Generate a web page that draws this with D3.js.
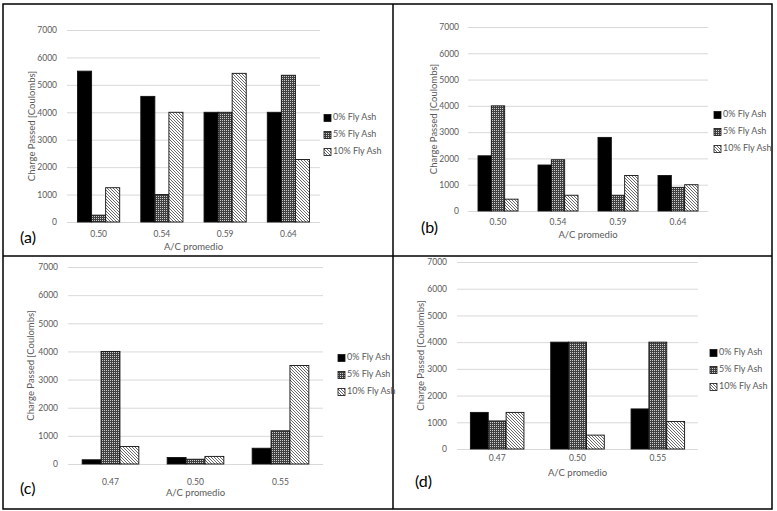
<!DOCTYPE html>
<html>
<head>
<meta charset="utf-8">
<script src="https://cdn.jsdelivr.net/npm/d3@7/dist/d3.min.js"></script>
<style>
  body { margin: 0; background: #fff; }
  svg { display: block; font-family: Lato, "Open Sans", sans-serif; }
</style>
</head>
<body>
<svg id="chart" width="777" height="511"></svg>
<script>
// data
const series = ["0% Fly Ash", "5% Fly Ash", "10% Fly Ash"];
const yTicks = [0, 1000, 2000, 3000, 4000, 5000, 6000, 7000];

const catsA = ["0.50", "0.54", "0.59", "0.64"];
const a0 = [5500, 4580, 4000, 4000];
const a5 = [250, 1000, 4000, 5350];
const a10 = [1250, 4000, 5420, 2280];

const catsB = ["0.50", "0.54", "0.59", "0.64"];
const b0 = [2100, 1750, 2800, 1350];
const b5 = [4000, 1950, 600, 900];
const b10 = [450, 600, 1350, 1000];

const catsC = ["0.47", "0.50", "0.55"];
const c0 = [150, 230, 560];
const c5 = [4000, 170, 1180];
const c10 = [620, 270, 3500];

const catsD = ["0.47", "0.50", "0.55"];
const d0 = [1370, 4000, 1500];
const d5 = [1050, 4000, 4000];
const d10 = [1370, 520, 1030];

const svg = d3.select("#chart");
const defs = svg.append("defs");

// 5% fill: dark grey with a grid of light dots
const dots = defs.append("pattern")
  .attr("id", "pat-dots")
  .attr("patternUnits", "userSpaceOnUse")
  .attr("width", 4)
  .attr("height", 4);
dots.append("rect").attr("width", 4).attr("height", 4).attr("fill", "#404040");
[[0, 0], [2, 0], [0, 2], [2, 2]].forEach(([px, py]) => {
  dots.append("rect")
    .attr("x", px).attr("y", py)
    .attr("width", 1).attr("height", 1)
    .attr("fill", "#cfcfcf");
});

// 10% fill: dense diagonal hatch
const hatch = defs.append("pattern")
  .attr("id", "pat-hatch")
  .attr("patternUnits", "userSpaceOnUse")
  .attr("width", 3)
  .attr("height", 3);
hatch.append("rect").attr("width", 3).attr("height", 3).attr("fill", "#fff");
hatch.append("path")
  .attr("d", "M-1,-1L4,4M2,-1L4,1M-1,2L1,4")
  .attr("stroke", "#444")
  .attr("stroke-width", 0.8);

const fills = ["#000", "url(#pat-dots)", "url(#pat-hatch)"];

// frame
svg.append("rect")
  .attr("x", 3).attr("y", 4)
  .attr("width", 769).attr("height", 505)
  .attr("fill", "none")
  .attr("stroke", "#000")
  .attr("stroke-width", 1.5);
svg.append("line")
  .attr("x1", 393).attr("x2", 393).attr("y1", 4).attr("y2", 509)
  .attr("stroke", "#000").attr("stroke-width", 1.5);
svg.append("line")
  .attr("x1", 3).attr("x2", 772).attr("y1", 256).attr("y2", 256)
  .attr("stroke", "#000").attr("stroke-width", 1.5);

const panels = [
  { tag: "(a)", cats: catsA, vals: [a0, a5, a10],
    x0: 67, x1: 320, top: 30, base: 222, tickPad: 10,
    catY: 235, titleY: 248, yTitleX: 33,
    legX: 324, legY: [118, 135, 152], tagX: 20, tagY: 239 },
  { tag: "(b)", cats: catsB, vals: [b0, b5, b10],
    x0: 468, x1: 708, top: 27, base: 211, tickPad: 9,
    catY: 223, titleY: 236, yTitleX: 435,
    legX: 714, legY: [115, 132, 149], tagX: 421, tagY: 229 },
  { tag: "(c)", cats: catsC, vals: [c0, c5, c10],
    x0: 68, x1: 323, top: 267, base: 464, tickPad: 10,
    catY: 483, titleY: 494, yTitleX: 32,
    legX: 338, legY: [358, 375, 392], tagX: 20, tagY: 490 },
  { tag: "(d)", cats: catsD, vals: [d0, d5, d10],
    x0: 457, x1: 698, top: 262, base: 449, tickPad: 10,
    catY: 459, titleY: 474, yTitleX: 422,
    legX: 710, legY: [353, 370, 387], tagX: 415, tagY: 483 }
];

panels.forEach((p) => {
  const g = svg.append("g");

  const y = d3.scaleLinear().domain([0, 7000]).range([p.base, p.top]);
  const x = d3.scaleBand().domain(p.cats).range([p.x0, p.x1]);
  const groupW = x.bandwidth() / 1.5;
  const xs = d3.scaleBand().domain(series).range([0, groupW]);

  // y axis with grid
  const yAxis = g.append("g")
    .attr("transform", `translate(${p.x0},0)`)
    .call(
      d3.axisLeft(y)
        .tickValues(yTicks)
        .tickFormat(d3.format("d"))
        .tickSize(-(p.x1 - p.x0))
        .tickPadding(p.tickPad)
    );
  yAxis.select(".domain").remove();
  yAxis.selectAll(".tick line").attr("stroke", "#d9d9d9").attr("stroke-width", 1);
  yAxis.selectAll(".tick text")
    .attr("fill", "#595959")
    .attr("font-size", "8.5px")
    .attr("font-family", "Lato, sans-serif");

  // bars
  series.forEach((s, si) => {
    g.selectAll(null)
      .data(p.vals[si])
      .enter()
      .append("rect")
      .attr("x", (d, i) => x(p.cats[i]) + (x.bandwidth() - groupW) / 2 + xs(s))
      .attr("y", (d) => y(d))
      .attr("width", xs.bandwidth())
      .attr("height", (d) => y(0) - y(d))
      .attr("fill", fills[si])
      .attr("stroke", "#111")
      .attr("stroke-width", 0.9);
  });

  // category labels
  g.selectAll(null)
    .data(p.cats)
    .enter()
    .append("text")
    .attr("x", (d) => x(d) + x.bandwidth() / 2)
    .attr("y", p.catY)
    .attr("text-anchor", "middle")
    .attr("dominant-baseline", "middle")
    .attr("font-size", "8.5px")
    .attr("fill", "#595959")
    .text((d) => d);

  // axis titles
  g.append("text")
    .attr("x", (p.x0 + p.x1) / 2)
    .attr("y", p.titleY)
    .attr("text-anchor", "middle")
    .attr("dominant-baseline", "middle")
    .attr("font-size", "9.5px")
    .attr("fill", "#595959")
    .text("A/C promedio");

  g.append("text")
    .attr("transform", `translate(${p.yTitleX},${(p.top + p.base) / 2}) rotate(-90)`)
    .attr("text-anchor", "middle")
    .attr("dominant-baseline", "middle")
    .attr("font-size", "9.5px")
    .attr("fill", "#595959")
    .text("Charge Passed [Coulombs]");

  // legend
  const leg = g.selectAll(null)
    .data(series)
    .enter()
    .append("g")
    .attr("transform", (d, i) => `translate(${p.legX},${p.legY[i]})`);
  leg.append("rect")
    .attr("x", 0).attr("y", -3.5)
    .attr("width", 7).attr("height", 7)
    .attr("fill", (d, i) => fills[i])
    .attr("stroke", "#111")
    .attr("stroke-width", 0.8);
  leg.append("text")
    .attr("x", 9)
    .attr("y", 0)
    .attr("dominant-baseline", "middle")
    .attr("font-size", "9px")
    .attr("fill", "#595959")
    .text((d) => d);

  // panel tag
  g.append("text")
    .attr("x", p.tagX)
    .attr("y", p.tagY)
    .attr("dominant-baseline", "middle")
    .attr("font-size", "16px")
    .attr("fill", "#000")
    .text(p.tag);
});
</script>
</body>
</html>
